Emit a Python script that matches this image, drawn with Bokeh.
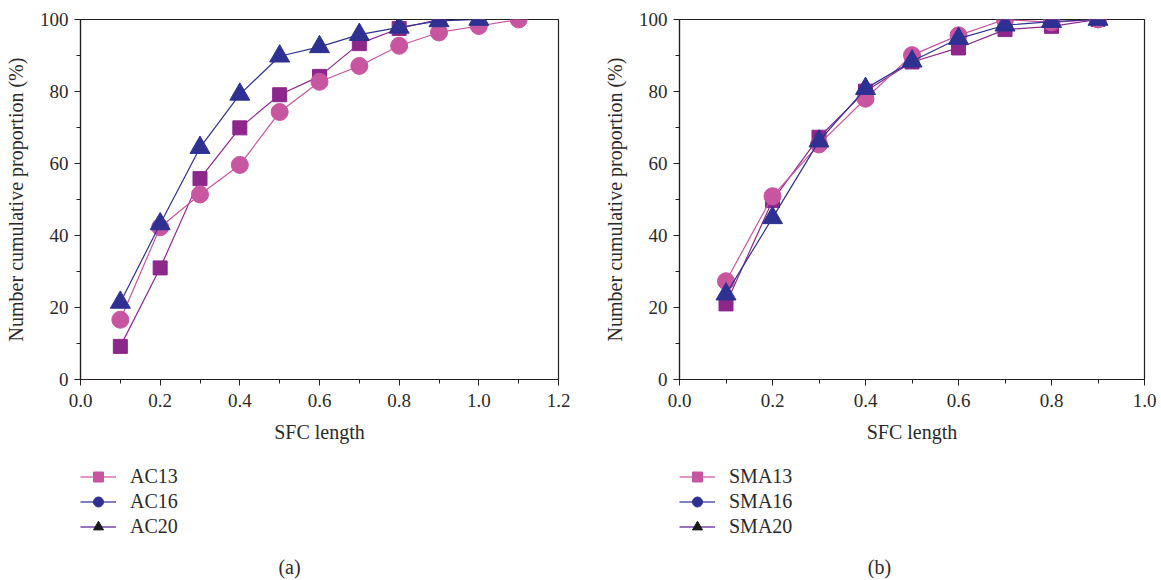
import numpy as np
from bokeh.plotting import figure
from bokeh.layouts import row, column
from bokeh.models import Legend, LegendItem, Label, FixedTicker, Range1d, NumeralTickFormatter
from bokeh.embed import file_html
from bokeh.resources import INLINE

# ---------------- data ----------------
sfc_len = [0.1, 0.2, 0.3, 0.4, 0.5, 0.6, 0.7, 0.8, 0.9, 1.0, 1.1]

ac_square = [9.2, 31.0, 55.8, 69.9, 79.1, 84.2, 93.3, 97.5, 100.0]
ac_circle = [16.6, 42.3, 51.4, 59.6, 74.3, 82.7, 87.1, 92.7, 96.4, 98.2, 100.0]
ac_triangle = [21.4, 43.2, 64.4, 79.2, 89.8, 92.4, 95.8, 97.8, 99.6, 100.0]

sma_square = [21.0, 49.7, 67.3, 80.1, 88.2, 92.1, 97.2, 98.1, 100.0]
sma_circle = [27.3, 50.9, 65.3, 78.0, 90.1, 95.6, 100.0, 99.2, 100.0]
sma_triangle = [23.7, 44.9, 66.2, 80.8, 88.4, 94.7, 98.4, 99.4, 100.0]

ac_labels = ["AC13", "AC16", "AC20"]
sma_labels = ["SMA13", "SMA16", "SMA20"]

x_major_a = [0.0, 0.2, 0.4, 0.6, 0.8, 1.0, 1.2]
x_major_b = [0.0, 0.2, 0.4, 0.6, 0.8, 1.0]
y_major = [0, 20, 40, 60, 80, 100]

FONT = "Liberation Serif"
TXT = "#2b2a29"
AX = "#231f20"
PINK = "#c8559f"
PURPLE = "#8d278c"
NAVY = "#2e3192"

PLOT_H = 450
LEG_H = 130


def panel(square, circle, triangle, labels, caption, x_end, x_major,
          width, b_left, b_right, cap_x):
    p = figure(width=width, height=PLOT_H, output_backend="svg", toolbar_location=None,
               x_range=Range1d(0, x_end), y_range=Range1d(0, 100),
               min_border_left=b_left, min_border_right=b_right,
               min_border_top=19, min_border_bottom=PLOT_H - 379)
    p.title.visible = False
    p.xgrid.visible = False
    p.ygrid.visible = False
    p.outline_line_color = AX
    p.outline_line_width = 1.2
    p.background_fill_color = "white"
    p.border_fill_color = "white"

    minor_x = [round(v + 0.1, 1) for v in x_major[:-1]]
    p.xaxis.ticker = FixedTicker(ticks=x_major, minor_ticks=minor_x)
    p.yaxis.ticker = FixedTicker(ticks=y_major, minor_ticks=[10, 30, 50, 70, 90])
    p.xaxis.formatter = NumeralTickFormatter(format="0.0")
    p.xaxis.axis_label = "SFC length"
    p.yaxis.axis_label = "Number cumulative proportion (%)"
    for ax in (p.xaxis[0], p.yaxis[0]):
        ax.axis_line_color = AX
        ax.axis_line_width = 1.2
        ax.major_tick_line_color = AX
        ax.minor_tick_line_color = AX
        ax.major_tick_out = 6
        ax.major_tick_in = 0
        ax.minor_tick_out = 4
        ax.minor_tick_in = 0
        ax.major_label_text_font = FONT
        ax.major_label_text_font_size = "19px"
        ax.major_label_text_color = TXT
        ax.axis_label_text_font = FONT
        ax.axis_label_text_font_size = "20px"
        ax.axis_label_text_font_style = "normal"
        ax.axis_label_text_color = TXT
    p.xaxis.major_label_standoff = 8
    p.xaxis.axis_label_standoff = 11
    p.yaxis.major_label_standoff = 6
    p.yaxis.axis_label_standoff = 10

    n_sq = len(square)
    n_ci = len(circle)
    n_tr = len(triangle)
    p.line(sfc_len[:n_sq], square, line_color=PURPLE, line_width=1.2)
    p.scatter(sfc_len[:n_sq], square, marker="square", size=14,
              fill_color=PURPLE, line_color=PURPLE)
    p.line(sfc_len[:n_ci], circle, line_color=PINK, line_width=1.2)
    p.scatter(sfc_len[:n_ci], circle, marker="circle", size=17,
              fill_color=PINK, line_color=PINK)
    p.line(sfc_len[:n_tr], triangle, line_color=NAVY, line_width=1.2)
    p.scatter(sfc_len[:n_tr], triangle, marker="triangle", size=20,
              fill_color=NAVY, line_color=NAVY)

    # legend + caption panel (legend as printed in the source figure);
    # its frame is aligned with the plot frame above by the column layout
    q = figure(width=width, height=LEG_H, output_backend="svg", toolbar_location=None,
               x_range=Range1d(0, 1), y_range=Range1d(0, 1),
               x_axis_type=None, y_axis_type=None, min_border=0,
               min_border_left=b_left, min_border_right=b_right, min_border_top=0,
               min_border_bottom=0)
    q.title.visible = False
    q.xgrid.visible = False
    q.ygrid.visible = False
    q.outline_line_color = None
    q.background_fill_color = "white"
    q.border_fill_color = "white"

    leg_styles = [("#d673b4", "square", "#c8559f"),
                  ("#5356ad", "circle", NAVY),
                  ("#7446a6", "triangle", "#1a1a1a")]
    items = []
    for lab, (lc, mk, mc) in zip(labels, leg_styles):
        # proxy renderers with one point outside the visible range
        r1 = q.line([-10, -9], [-10, -10], line_color=lc, line_width=1.5)
        r2 = q.scatter([-10], [-10], marker=mk, fill_color=mc, line_color=mc)
        items.append(LegendItem(label=lab, renderers=[r1, r2]))
    leg = Legend(items=items, location=(0, 41), orientation="vertical",
                 border_line_alpha=0, background_fill_alpha=0, padding=0,
                 margin=0, spacing=0, glyph_width=36, glyph_height=25,
                 label_height=25, label_standoff=14,
                 label_text_font=FONT, label_text_font_size="20px",
                 label_text_color=TXT)
    q.add_layout(leg)

    cap = Label(x=cap_x, y=14, x_units="screen", y_units="screen", text=caption,
                text_align="center", text_baseline="middle",
                text_font=FONT, text_font_size="20px", text_color=TXT)
    q.add_layout(cap)
    return column(p, q, spacing=0)


pa = panel(ac_square, ac_circle, ac_triangle, ac_labels, "(a)", 1.2, x_major_a,
           600, 80, 42, 209)
pb = panel(sma_square, sma_circle, sma_triangle, sma_labels, "(b)", 1.0, x_major_b,
           561, 71, 17, 200)

layout = row(pa, pb, spacing=0)
open("out.html", "w").write(file_html(layout, INLINE))
